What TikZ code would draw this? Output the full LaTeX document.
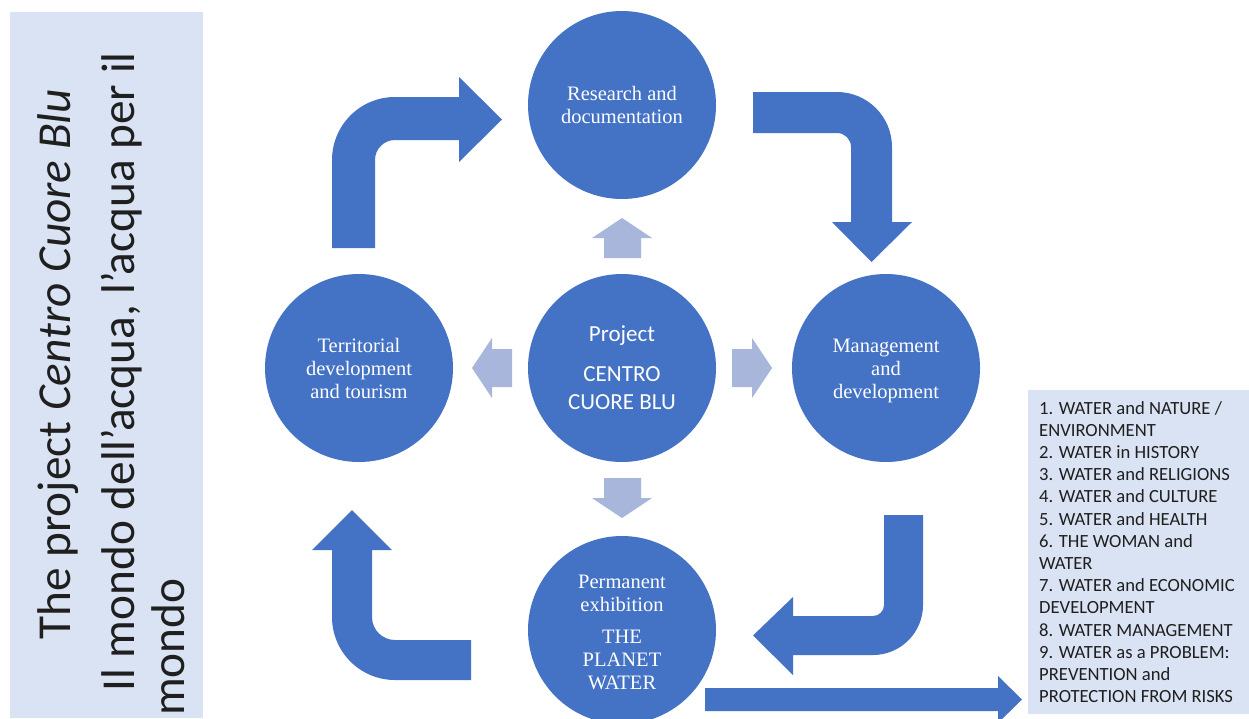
\documentclass[tikz,border=0pt]{standalone}
\usepackage{fontspec}
\setmainfont{Carlito}
\newfontfamily\tnr{Liberation Serif}
\definecolor{accent}{HTML}{4472C4}
\definecolor{lightarrow}{HTML}{A8B6DC}
\definecolor{panel}{HTML}{DAE3F3}
\tikzset{
  bigcirc/.style={circle, fill=accent, minimum size=188pt, inner sep=0pt, text=white, align=center,
    font=\tnr\fontsize{20.5}{23}\selectfont},
  projcirc/.style={bigcirc, font=\fontsize{23}{28}\selectfont},
  blockarrow/.style={fill=accent},
  lightblock/.style={fill=lightarrow},
  paneltxt/.style={rotate=90, anchor=base west, inner sep=0pt, text=black!88, font=\fontsize{47.3}{50}\selectfont},
  listtxt/.style={anchor=base west, inner sep=0pt, text=black!88, font=\fontsize{18.6}{22}\selectfont}
}
\begin{document}
\begin{tikzpicture}[x=1pt,y=-1pt]
\useasboundingbox (0,0) rectangle (1249,718);
\fill[white] (0,0) rectangle (1249,718);
% left panel
\fill[panel] (10,12) rectangle (203,718);
\node[paneltxt] (t1) at (70,640) {The project \textit{Centro Cuore Blu}};
\node[paneltxt] (t2) at (134,692) {Il mondo dell’acqua, l’acqua per il};
\node[paneltxt] (t3) at (184,716) {mondo};
% list box
\fill[panel] (1028,390) rectangle (1249,714);
\foreach \t [count=\i] in {{1. WATER and NATURE /},{ENVIRONMENT},{2. WATER in HISTORY},{3. WATER and RELIGIONS},{4. WATER and CULTURE},{5. WATER and HEALTH},{6. THE WOMAN and},{WATER},{7. WATER and ECONOMIC},{DEVELOPMENT},{8. WATER MANAGEMENT},{9. WATER as a PROBLEM:},{PREVENTION and},{PROTECTION FROM RISKS}}
  \node[listtxt] (l\i) at (1039,{414+22.2*(\i-1)}) {\t};
% circles
\node[bigcirc] (res) at (622,105) {Research and\\documentation};
\node[bigcirc] (ter) at (359,368) {Territorial\\development\\and tourism};
\node[projcirc] (proj) at (622,368) {Project\\[12pt]CENTRO\\CUORE BLU};
\node[bigcirc] (man) at (886,368) {};
\node[align=center, text=white, inner sep=0pt, font=\tnr\fontsize{20.5}{23}\selectfont] (mantxt) at (886,371) {Management\\and\\development};
\node[bigcirc] (exh) at (622,630) {};
\node[align=center, text=white, inner sep=0pt, font=\tnr\fontsize{20.5}{23}\selectfont] (exhtxt) at (622,632) {Permanent\\exhibition\\[9pt]THE\\PLANET\\WATER};
% light arrows around the centre
\fill[lightblock] (604,258) -- (604,238) -- (592,238) -- (622,218) -- (652,238) -- (641,238) -- (641,258) -- cycle;
\fill[lightblock] (604,478) -- (604,498) -- (592,498) -- (622,518) -- (652,498) -- (641,498) -- (641,478) -- cycle;
\fill[lightblock] (512,349) -- (492,349) -- (492,338) -- (472,368) -- (492,398) -- (492,387) -- (512,387) -- cycle;
\fill[lightblock] (732,349) -- (752,349) -- (752,338) -- (772,368) -- (752,398) -- (752,387) -- (732,387) -- cycle;
% bent arrows
\fill[blockarrow] (332,248) -- (332,160) arc[start angle=180,end angle=270,radius=63] -- (459,97) -- (459,77) -- (502,119.5) -- (459,162) -- (459,140) -- (395,140) arc[start angle=270,end angle=180,radius=20] -- (375,248) -- cycle;
\fill[blockarrow] (753,92) -- (837,92) arc[start angle=270,end angle=360,radius=55] -- (892,222) -- (912,222) -- (871.5,262) -- (832,222) -- (851,222) -- (851,147) arc[start angle=0,end angle=-90,radius=14] -- (753,133) -- cycle;
\fill[blockarrow] (884,515) -- (923,515) -- (923,605) arc[start angle=0,end angle=90,radius=50] -- (793,655) -- (793,675) -- (753,635.5) -- (793,597) -- (793,616) -- (873,616) arc[start angle=90,end angle=0,radius=11] -- cycle;
\fill[blockarrow] (471,640) -- (395,640) arc[start angle=90,end angle=180,radius=23] -- (372,550) -- (392,550) -- (352,510) -- (312,550) -- (332,550) -- (332,617) arc[start angle=180,end angle=90,radius=63] -- (471,680) -- cycle;
% long arrow to the list
\fill[blockarrow] (705,688) -- (998,688) -- (998,676) -- (1022,699.5) -- (998,723) -- (998,711) -- (705,711) -- cycle;
\end{tikzpicture}
\end{document}
